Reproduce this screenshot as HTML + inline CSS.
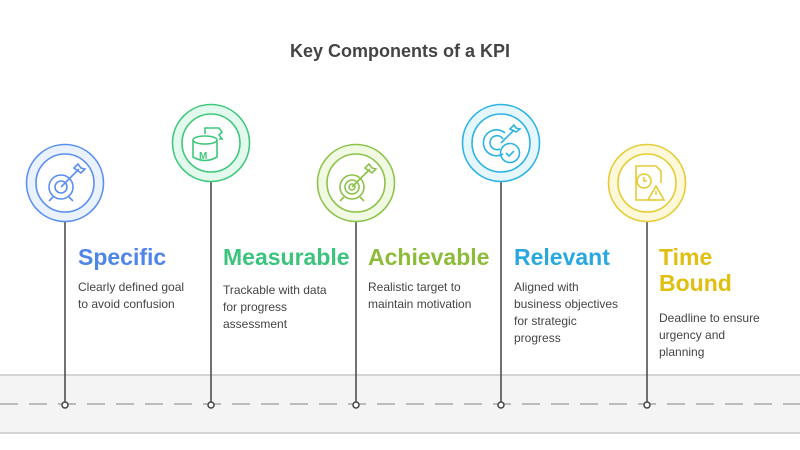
<!DOCTYPE html>
<html><head><meta charset="utf-8"><style>
body{margin:0;width:800px;height:450px;background:#fff;overflow:hidden;position:relative;font-family:"Liberation Sans",sans-serif}
.t{position:absolute;font-weight:bold;font-size:23px;line-height:26px}
.d{position:absolute;font-size:12px;line-height:17px;color:#444}
</style></head><body>
<svg width="800" height="450" style="position:absolute;left:0;top:0">
<rect x="-1" y="375" width="802" height="58" fill="#f4f4f4" stroke="#c8c8c8" stroke-width="1.5"/>
<line x1="0" y1="404" x2="800" y2="404" stroke="#a8a8a8" stroke-width="1.5" stroke-dasharray="18,11"/>
<g stroke="#444" stroke-width="1.5">
<line x1="65" y1="222" x2="65" y2="404"/><line x1="211" y1="182" x2="211" y2="404"/>
<line x1="356" y1="222" x2="356" y2="404"/><line x1="501" y1="182" x2="501" y2="404"/>
<line x1="647" y1="222" x2="647" y2="404"/></g>
<g fill="#fff" stroke="#444" stroke-width="1.5">
<circle cx="65" cy="405" r="3"/><circle cx="211" cy="405" r="3"/><circle cx="356" cy="405" r="3"/><circle cx="501" cy="405" r="3"/><circle cx="647" cy="405" r="3"/></g>
<g stroke-width="1.6" fill="none">
<circle cx="65" cy="183" r="38.5" fill="#eaf2fd" stroke="#5b8fef"/><circle cx="65" cy="183" r="29" fill="#fff" stroke="#5b8fef"/>
<g stroke="#5b8fef"><circle cx="61" cy="187" r="12"/><circle cx="61" cy="187" r="6"/><line x1="61" y1="187" x2="79" y2="169"/><path d="M74 168l4-4 3 4 4 1-4 4z"/><line x1="53" y1="197" x2="49" y2="201"/><line x1="69" y1="197" x2="73" y2="201"/></g>
<circle cx="211" cy="143" r="38.5" fill="#e3f9ee" stroke="#3ec97a"/><circle cx="211" cy="143" r="29" fill="#fff" stroke="#3ec97a"/>
<g stroke="#3ec97a"><ellipse cx="205" cy="140" rx="12" ry="4"/><path d="M193 140v17q12 7 24 0v-17"/><path d="M205 134v-6h14l3 4-3 3 3 4-3 0"/><text x="199" y="159" font-size="10" fill="#3ec97a" stroke="none" font-weight="bold" font-family="Liberation Sans">M</text></g>
<circle cx="356" cy="183" r="38.5" fill="#f1f9e3" stroke="#8bc34a"/><circle cx="356" cy="183" r="29" fill="#fff" stroke="#8bc34a"/>
<g stroke="#8bc34a"><circle cx="352" cy="187" r="12"/><circle cx="352" cy="187" r="7"/><circle cx="352" cy="187" r="3"/><line x1="352" y1="187" x2="370" y2="169"/><path d="M365 168l4-4 3 4 4 1-4 4z"/><line x1="344" y1="197" x2="340" y2="201"/><line x1="360" y1="197" x2="364" y2="201"/></g>
<circle cx="501" cy="143" r="38.5" fill="#e5f7fd" stroke="#2bb3e6"/><circle cx="501" cy="143" r="29" fill="#fff" stroke="#2bb3e6"/>
<g stroke="#2bb3e6"><path d="M505 133a13 13 0 1 0 -2 21"/><path d="M503 139a7 7 0 1 0 -3 10"/><line x1="501" y1="143" x2="514" y2="130"/><path d="M510 129l4-4 2 3 4 1-4 3z"/><circle cx="510" cy="153" r="9.5"/><path d="M506 153l3 3 5-5"/></g>
<circle cx="647" cy="183" r="38.5" fill="#fdf8d9" stroke="#e6cc33"/><circle cx="647" cy="183" r="29" fill="#fff" stroke="#e6cc33"/>
<g stroke="#e6cc33"><path d="M656 200h-20v-34h20l5 5v12"/><circle cx="644" cy="181" r="7"/><path d="M644 177v4h3"/><path d="M656 186l-8 14h16z"/><line x1="656" y1="191" x2="656" y2="195"/></g>
</g>
<text x="400" y="57" text-anchor="middle" font-size="18" font-weight="bold" fill="#444" font-family="Liberation Sans">Key Components of a KPI</text>
</svg>
<div class="t" style="left:78px;top:244px;color:#4f85e8">Specific</div>
<div class="d" style="left:78px;top:279px">Clearly defined goal<br>to avoid confusion</div>
<div class="t" style="left:223px;top:244px;color:#3cc47c">Measurable</div>
<div class="d" style="left:223px;top:282px">Trackable with data<br>for progress<br>assessment</div>
<div class="t" style="left:368px;top:244px;color:#8dbb3a">Achievable</div>
<div class="d" style="left:368px;top:279px">Realistic target to<br>maintain motivation</div>
<div class="t" style="left:514px;top:244px;color:#29a8e0">Relevant</div>
<div class="d" style="left:514px;top:279px">Aligned with<br>business objectives<br>for strategic<br>progress</div>
<div class="t" style="left:659px;top:244px;color:#e0bf10">Time<br>Bound</div>
<div class="d" style="left:659px;top:310px">Deadline to ensure<br>urgency and<br>planning</div>
</body></html>
